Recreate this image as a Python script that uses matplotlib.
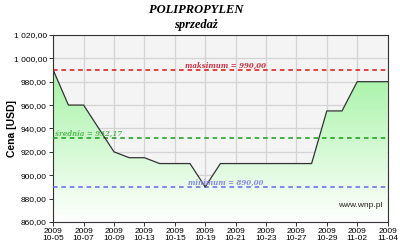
import matplotlib.pyplot as plt
import numpy as np
from matplotlib.patches import Polygon
from matplotlib.colors import LinearSegmentedColormap

# dane - notowania polipropylenu (sprzedaż)
daty = ['10-05', '10-06', '10-07', '10-08', '10-09', '10-12', '10-13', '10-14',
        '10-15', '10-16', '10-19', '10-20', '10-21', '10-22', '10-23', '10-26',
        '10-27', '10-28', '10-29', '10-30', '11-02', '11-03', '11-04']
ceny = [990, 960, 960, 940, 920, 915, 915, 910, 910, 910, 890, 910, 910, 910,
        910, 910, 910, 910, 955, 955, 980, 980, 980]
etykiety_x = ['10-05', '10-07', '10-09', '10-13', '10-15', '10-19', '10-21',
              '10-23', '10-27', '10-29', '11-02', '11-04']
y_ticks = [860, 880, 900, 920, 940, 960, 980, 1000, 1020]

x = np.arange(len(ceny))
maks = max(ceny)
mini = min(ceny)
srednia = np.mean(ceny)


def fmt(v):
    s = f'{v:,.2f}'.replace(',', ' ').replace('.', ',')
    return s


fig = plt.figure(figsize=(4, 2.44), dpi=100)
ax = fig.add_axes([0.133, 0.090, 0.836, 0.767])
ax.set_facecolor('#f4f4f4')

ax.set_xlim(0, len(ceny) - 1)
ax.set_ylim(860, 1020)

# gradient pod linia
grad = np.linspace(0, 1, 256).reshape(-1, 1)
cmap = LinearSegmentedColormap.from_list('g', ['#ffffff', '#9ff29f'])
img = ax.imshow(grad, aspect='auto', cmap=cmap, origin='lower',
                extent=[0, len(ceny) - 1, 860, 1000], zorder=1)
poly = Polygon(np.column_stack([np.r_[x, x[-1], x[0]],
                                np.r_[ceny, 860, 860]]),
               closed=True, transform=ax.transData, facecolor='none', edgecolor='none')
ax.add_patch(poly)
img.set_clip_path(poly)

ax.plot(x, ceny, color='#333333', lw=0.9, zorder=4)

# linie statystyk
ax.axhline(maks, color='#dd1111', ls=(0, (3, 2.5)), lw=1.1, zorder=3)
ax.axhline(srednia, color='#11a011', ls=(0, (3, 2.5)), lw=1.1, zorder=3)
ax.axhline(mini, color='#6666ee', ls=(0, (3, 2.5)), lw=1.1, zorder=3)

sty = dict(family='DejaVu Serif', style='italic', fontweight='bold', fontsize=5, zorder=5)
ax.text(8.7, maks + 1.8, 'maksimum = ' + fmt(maks), color='#cc3344', **sty)
ax.text(0.1, srednia + 1.8, 'średnia = ' + fmt(srednia), color='#55bb55', **sty)
ax.text(8.9, mini + 1.8, 'minimum = ' + fmt(mini), color='#8888dd', **sty)

ax.text(0.985, 0.07, 'www.wnp.pl', transform=ax.transAxes, ha='right', va='bottom',
        fontsize=6, family='Liberation Sans', color='#222222', zorder=5)

ax.set_xticks(np.arange(0, len(ceny), 2))
ax.set_xticklabels(['2009\n' + e for e in etykiety_x], fontsize=6, family='Liberation Sans',
                   linespacing=1.0)
ax.set_yticks(y_ticks)
ax.set_yticklabels([fmt(v) for v in y_ticks], fontsize=6, family='Liberation Sans')
ax.tick_params(length=3, width=0.7, pad=1.5, color='#333333')
ax.grid(True, color='#d4d4d4', lw=0.9, zorder=0)
ax.set_axisbelow(True)
for s in ax.spines.values():
    s.set_color('#333333')
    s.set_linewidth(0.8)

ax.set_ylabel('Cena [USD]', fontsize=7.5, family='Liberation Sans', fontweight='bold')
ax.yaxis.set_label_coords(-0.108, 0.5)

fig.text(0.49, 0.959, 'POLIPROPYLEN', ha='center', va='center', family='Liberation Serif',
         style='italic', fontweight='bold', fontsize=9)
fig.text(0.49, 0.898, 'sprzedaż', ha='center', va='center', family='Liberation Serif',
         style='italic', fontweight='bold', fontsize=9)

fig.savefig('out.png', dpi=100)
